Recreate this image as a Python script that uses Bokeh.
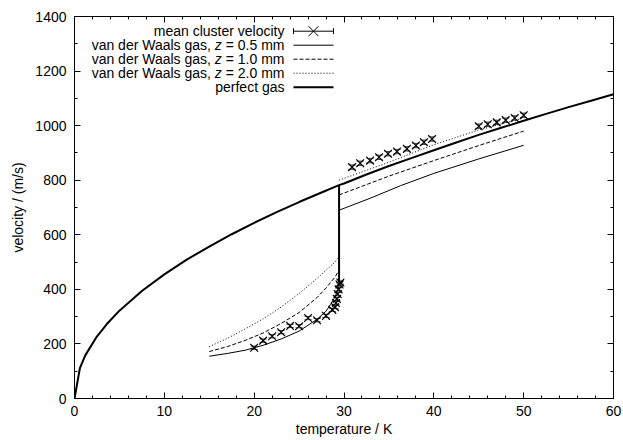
import numpy as np
from bokeh.plotting import figure
from bokeh.models import (Range1d, LinearAxis, SingleIntervalTicker, Label, PolyAnnotation,
                          Whisker, TeeHead, ColumnDataSource)
from bokeh.embed import file_html
from bokeh.resources import INLINE

# ---------------- data ----------------
cluster_T = [20.0, 21.0, 22.0, 23.0, 24.0, 25.0, 26.0, 27.0, 28.0, 28.7, 29.0, 29.1, 29.2,
             29.3, 29.4, 29.5, 29.6,
             30.9, 31.8, 32.9, 33.9, 34.9, 35.9, 37.0, 38.0, 38.9, 39.8,
             45.0, 46.0, 47.0, 48.0, 49.0, 50.0]
cluster_v = [186, 212, 228, 243, 266, 265, 295, 287, 303, 325, 335, 350, 365,
             383, 400, 418, 425,
             848, 862, 872, 884, 897, 905, 915, 927, 939, 951,
             998, 1005, 1012, 1020, 1028, 1038]
cluster_err = [6, 6, 6, 6, 6, 6, 6, 6, 6, 6, 6, 6, 6,
               6, 6, 6, 6,
               8, 8, 8, 8, 8, 8, 8, 8, 8, 8,
               8, 8, 8, 8, 8, 8]

vdw05_low_T = [15, 17, 19, 21, 23, 25, 27, 28, 28.5, 29, 29.45]
vdw05_low_v = [155, 165, 177, 195, 218, 247, 290, 320, 345, 372, 410]
vdw05_high_T = [29.45, 33, 36.3, 40, 45, 50]
vdw05_high_v = [690, 735, 780, 825, 878, 928]

vdw10_low_T = [15, 17, 19, 21, 23, 25, 27, 28, 29, 29.45]
vdw10_low_v = [172, 190, 213, 240, 275, 315, 370, 405, 445, 470]
vdw10_high_T = [29.45, 35, 40, 45, 50]
vdw10_high_v = [746, 815, 872, 927, 980]

vdw20_low_T = [15, 17, 19, 21, 23, 25, 27, 28, 29, 29.45]
vdw20_low_v = [190, 220, 255, 292, 335, 385, 440, 470, 500, 520]
vdw20_high_T = [29.45, 35, 40, 45, 50]
vdw20_high_v = [800, 866, 930, 984, 1028]

perfect_T = [0, 0.6, 1.2, 2.4, 3.6, 5, 7.5, 10, 12.5, 15, 17.5, 20, 22.5, 25, 27.5, 29.45,
             30, 32.5, 35, 37.5, 40, 42.5, 45, 47.5, 50, 52.5, 55, 57.5, 60]
perfect_v = [0, 111, 158, 223, 273, 322, 394, 455, 509, 557, 602, 644, 683, 720, 755, 782,
             788, 821, 852, 881, 910, 938, 966, 992, 1018, 1043, 1068, 1091, 1115]
jump_T = [29.45, 29.45]
jump_v = [425, 782]

x_ticks_interval = 10
y_ticks_interval = 200
legend_labels = ["mean cluster velocity", "van der Waals gas, ", "z", " = 0.5 mm",
                 " = 1.0 mm", " = 2.0 mm", "perfect gas"]

FONT = "Liberation Sans"
FS = "14px"

# ---------------- figure ----------------
W, H = 623, 440
L, R, T, B = 74, 10, 16, 42
p = figure(width=W, height=H, x_range=Range1d(0, 60), y_range=Range1d(0, 1400),
           output_backend="svg", toolbar_location=None,
           min_border_left=L, min_border_right=R, min_border_top=T, min_border_bottom=B)
p.xgrid.visible = False
p.ygrid.visible = False
p.outline_line_color = "black"
p.outline_line_width = 1
p.background_fill_color = "white"
p.border_fill_color = "white"

fw = W - L - R
fh = H - T - B
def px2x(px):
    return (px - L) / fw * 60.0
def py2y(py):
    return (H - B - py) / fh * 1400.0

def style_axis(ax, labels=True, minor=5, interval=10):
    ax.ticker = SingleIntervalTicker(interval=interval, num_minor_ticks=minor)
    ax.axis_line_color = "black"
    ax.major_tick_in = 6
    ax.major_tick_out = 0
    ax.minor_tick_in = 3
    ax.minor_tick_out = 0
    ax.major_tick_line_color = "black"
    ax.minor_tick_line_color = "black"
    ax.major_label_text_font = FONT
    ax.major_label_text_color = "black"
    ax.axis_label_text_font = FONT
    ax.axis_label_text_font_style = "normal"
    ax.axis_label_text_color = "black"
    ax.axis_label_text_font_size = FS
    if labels:
        ax.major_label_text_font_size = FS
    else:
        ax.major_label_text_font_size = "1px"
        ax.major_label_text_color = None
        ax.major_label_text_alpha = 0
        ax.major_label_standoff = 0

style_axis(p.xaxis[0], True, 5, x_ticks_interval)
style_axis(p.yaxis[0], True, 2, y_ticks_interval)
p.xaxis[0].axis_label = "temperature / K"
p.yaxis[0].axis_label = "velocity / (m/s)"
p.xaxis[0].major_label_standoff = 7
p.xaxis[0].axis_label_standoff = 2
p.yaxis[0].major_label_standoff = 8
p.yaxis[0].axis_label_standoff = 6

top = LinearAxis()
style_axis(top, False, 5, x_ticks_interval)
p.add_layout(top, "above")
right = LinearAxis()
style_axis(right, False, 2, y_ticks_interval)
p.add_layout(right, "right")

# ---------------- curves ----------------
p.line(perfect_T, perfect_v, line_color="black", line_width=2)
p.line(jump_T, jump_v, line_color="black", line_width=2)
for tt, vv, dash in [(vdw05_low_T, vdw05_low_v, "solid"), (vdw05_high_T, vdw05_high_v, "solid"),
                     (vdw10_low_T, vdw10_low_v, "4 2"), (vdw10_high_T, vdw10_high_v, "4 2"),
                     (vdw20_low_T, vdw20_low_v, "1 2"), (vdw20_high_T, vdw20_high_v, "1 2")]:
    p.line(tt, vv, line_color="black", line_width=1, line_dash=dash)

src = ColumnDataSource(dict(T=cluster_T, v=cluster_v,
                            lo=[a - b for a, b in zip(cluster_v, cluster_err)],
                            up=[a + b for a, b in zip(cluster_v, cluster_err)]))
p.add_layout(Whisker(source=src, base="T", lower="lo", upper="up", dimension="height",
                     line_color="#444444", line_width=1,
                     upper_head=TeeHead(size=7, line_color="#444444", line_width=1),
                     lower_head=TeeHead(size=7, line_color="#444444", line_width=1)))
p.scatter("T", "v", source=src, marker="x", size=11, line_color="black", line_width=1.2)

# ---------------- legend (text left of sample, like gnuplot) ----------------
text_end = 284
s0, s1 = 293, 333
rows = [30.7, 44.7, 58.7, 72.7, 86.7]
def lab(px, py, txt, style="normal"):
    p.add_layout(Label(x=px2x(px), y=py2y(py), text=txt, text_align="right",
                       text_baseline="middle", text_font=FONT, text_font_size=FS,
                       text_font_style=style, text_color="black"))
def seg(pxa, pya, pxb, pyb, dash="solid", w=1):
    p.add_layout(PolyAnnotation(xs=[px2x(pxa), px2x(pxb)], ys=[py2y(pya), py2y(pyb)],
                                fill_alpha=0, line_alpha=1, line_color="black",
                                line_width=w, line_dash=dash))

lab(text_end, rows[0], legend_labels[0])
seg(s0, rows[0], s1, rows[0])
seg(s0, rows[0] - 3, s0, rows[0] + 3)
seg(s1, rows[0] - 3, s1, rows[0] + 3)
seg(313 - 5, rows[0] - 5, 313 + 5, rows[0] + 5)
seg(313 - 5, rows[0] + 5, 313 + 5, rows[0] - 5)

em = 14.0 / 1000.0
w_suffix = (584 + 278 + 556 + 278 + 556 + 278 + 833 + 833) * em
w_space = 278 * em
w_z = 500 * em
for i, (suffix, dash) in enumerate([(legend_labels[3], "solid"), (legend_labels[4], "4 2"),
                                     (legend_labels[5], "1 2")]):
    py = rows[i + 1]
    lab(text_end, py, suffix.strip())
    zx = text_end - w_suffix - w_space
    lab(zx, py, legend_labels[2], "italic")
    lab(zx - w_z - w_space, py, legend_labels[1].strip())
    seg(s0, py, s1, py, dash)

lab(text_end, rows[4], legend_labels[6])
seg(s0, rows[4], s1, rows[4], "solid", 2)

open("out.html", "w").write(file_html(p, INLINE))
